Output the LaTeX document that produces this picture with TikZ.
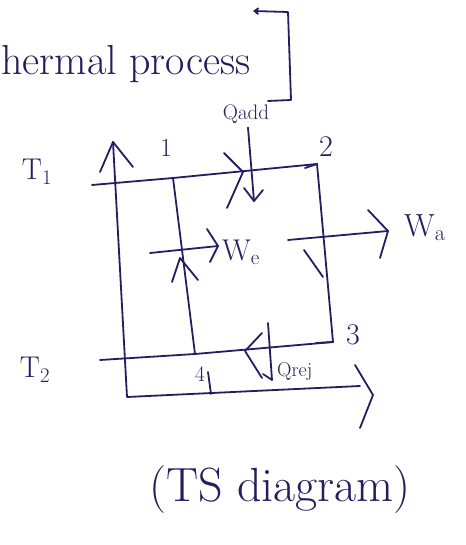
\documentclass[tikz,border=0pt]{standalone}
\usepackage{fontspec}
\usetikzlibrary{arrows.meta}
\definecolor{ink}{RGB}{35,30,95}
\begin{document}
\begin{tikzpicture}[x=1pt,y=-1pt,
  ink line/.style={draw=ink,line width=1.8pt,line cap=round,line join=round},
  lbl/.style={text=ink,inner sep=0pt,font=\fontsize{#1}{#1}\selectfont},
  lbl/.default=28]
\useasboundingbox (0,0) rectangle (465,545);
% coordinates
\coordinate (axtop) at (113,142);
\coordinate (org) at (127,397);
\coordinate (send) at (360,386);
\coordinate (t1a) at (92,185);
\coordinate (p1) at (173,178);
\coordinate (p2) at (317,164);
\coordinate (p3) at (333,342);
\coordinate (p4) at (195,354);
\coordinate (t2a) at (100,360);
% heading
\node[lbl=42,anchor=west] (head) at (1,64) {hermal process};
\coordinate (b1) at (253,11);
\coordinate (b2) at (288,12);
\coordinate (b3) at (291,100);
\coordinate (b4) at (268,101);
\draw[ink line,{Straight Barb[length=4pt,width=6pt]}-] (b1) -- (b2) -- (b3) -- (b4);
\node[lbl=21] (qadd) at (246,114) {Qadd};
% axes
\draw[ink line] (axtop) -- (org) -- (send);
\draw[ink line] (100,172) -- (axtop) -- (133,167);
\draw[ink line] (355,365) -- (373,395) -- (360,428);
% cycle
\draw[ink line] (t1a) -- (p1) -- (p2);
\draw[ink line] (t2a) -- (p4) -- (p3);
\draw[ink line] (p2) -- (p3);
\draw[ink line] (p1) -- (p4);
\draw[ink line] (305,168) -- (p2);
\draw[ink line] (316,343) -- (p3);
% point labels
\node[lbl=26] (n1) at (166,148) {1};
\node[lbl=30] (n2) at (326,147) {2};
\node[lbl=30] (n3) at (353,335) {3};
\node[lbl=22] (n4) at (200,374) {4};
\coordinate (s4) at (211,394);
\draw[ink line] (208,372) -- (s4);
\node[lbl=30] (T1) at (37,172) {T$_1$};
\node[lbl=30] (T2) at (35,370) {T$_2$};
% heat added
\coordinate (qa2) at (254,201);
\draw[ink line] (qadd.south) ++(2,4) -- (qa2);
\draw[ink line] (244,188) -- (qa2) -- (263,190);
\draw[ink line] (224,153) -- (243,172) -- (227,208);
% work
\coordinate (we1) at (150,253);
\coordinate (we2) at (218,246);
\draw[ink line] (we1) -- (we2);
\draw[ink line] (207,229) -- (we2) -- (210,262);
\node[lbl=30,anchor=west] (We) at (222,252) {W$_\mathrm{e}$};
\draw[ink line] (172,282) -- (180,258) -- (198,280);
\coordinate (wa1) at (288,240);
\coordinate (wa2) at (388,231);
\draw[ink line] (wa1) -- (wa2);
\draw[ink line] (368,210) -- (wa2) -- (380,258);
\node[lbl=32,anchor=west] (Wa) at (404,228) {W$_\mathrm{a}$};
\draw[ink line] (304,250) -- (323,277);
% heat rejected
\coordinate (qr1) at (268,323);
\coordinate (qr2) at (272,380);
\draw[ink line] (qr1) -- (qr2) -- (263,374);
\draw[ink line] (262,333) -- (245,351) -- (262,378);
\node[lbl=20,anchor=west] (qrej) at (277,372) {Qrej};
% caption
\node[lbl=48] (cap) at (280,490) {(TS diagram)};
\end{tikzpicture}
\end{document}
